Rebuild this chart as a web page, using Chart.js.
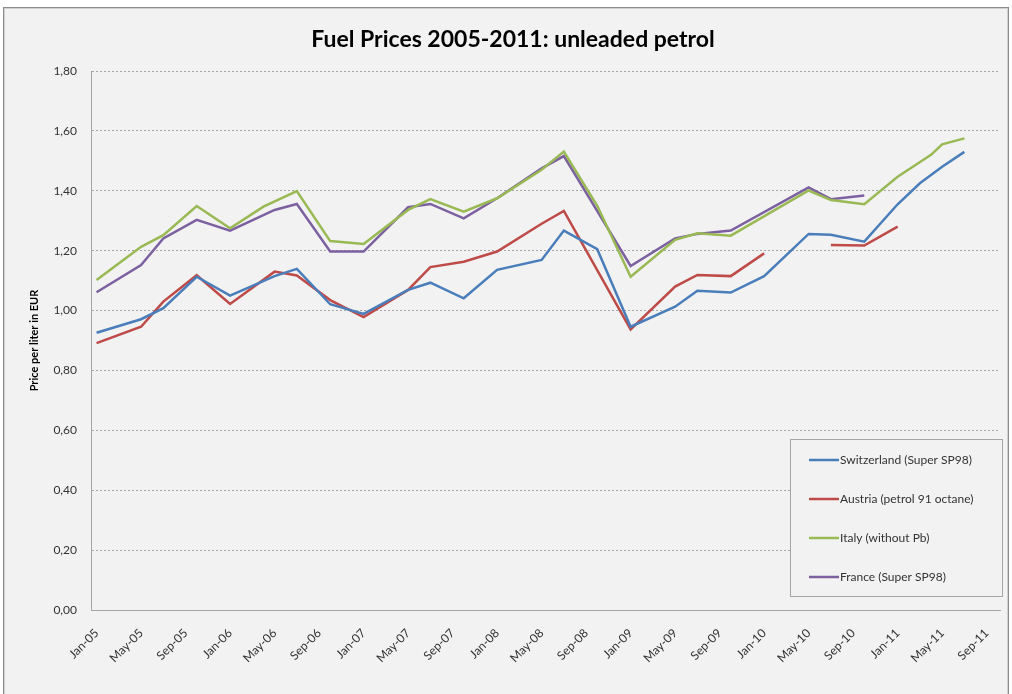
<!DOCTYPE html>
<html>
<head>
<meta charset="utf-8">
<title>Fuel Prices 2005-2011</title>
<script src="https://cdn.jsdelivr.net/npm/chart.js@4"></script>
<style>
  body { margin: 0; background: #ffffff; }
  #frame {
    position: absolute; left: 3px; top: 7px; width: 1004px; height: 690px;
    background: #f2f2f2; border: 1px solid #8c8c8c; box-shadow: inset 0 0 0 1px #d0d0d0;
  }
  #chart { position: absolute; left: 0; top: 0; }
</style>
</head>
<body>
<div id="frame"></div>
<canvas id="chart" width="1012" height="694"></canvas>
<script>
// x tick labels, one every 4 months starting Jan-05
const tickLabels = ['Jan-05', 'May-05', 'Sep-05', 'Jan-06', 'May-06', 'Sep-06', 'Jan-07', 'May-07',
    'Sep-07', 'Jan-08', 'May-08', 'Sep-08', 'Jan-09', 'May-09', 'Sep-09', 'Jan-10', 'May-10',
    'Sep-10', 'Jan-11', 'May-11', 'Sep-11'];

// [months since Jan-05, price in EUR]
const switzerland = [[0, 0.926], [4, 0.971], [6, 1.008], [9, 1.113], [12, 1.050], [16, 1.115],
    [18, 1.139], [21, 1.021], [24, 0.989], [28, 1.069], [30, 1.093], [33, 1.041], [36, 1.136],
    [40, 1.169], [42, 1.267], [45, 1.205], [48, 0.946], [52, 1.013], [54, 1.066], [57, 1.060],
    [60, 1.115], [64, 1.256], [66, 1.253], [69, 1.230], [72, 1.355], [74, 1.425], [76, 1.480],
    [78, 1.530]];

const austria = [[0, 0.891], [4, 0.946], [6, 1.030], [9, 1.118], [12, 1.022], [16, 1.130],
    [18, 1.117], [21, 1.035], [24, 0.978], [28, 1.069], [30, 1.145], [33, 1.163], [36, 1.197],
    [40, 1.290], [42, 1.333], [48, 0.937], [52, 1.080], [54, 1.119], [57, 1.115], [60, 1.191],
    [63, null], [66, 1.219], [69, 1.217], [72, 1.280]];

const italy = [[0, 1.102], [4, 1.213], [6, 1.252], [9, 1.349], [12, 1.275], [15, 1.347],
    [18, 1.399], [21, 1.232], [24, 1.222], [28, 1.336], [30, 1.372], [33, 1.330], [36, 1.375],
    [40, 1.470], [42, 1.531], [45, 1.350], [48, 1.113], [52, 1.236], [54, 1.258], [57, 1.250],
    [64, 1.401], [66, 1.369], [69, 1.355], [72, 1.447], [75, 1.520], [76, 1.555], [78, 1.575]];

const france = [[0, 1.061], [4, 1.152], [6, 1.241], [9, 1.303], [12, 1.267], [16, 1.336],
    [18, 1.356], [21, 1.197], [24, 1.197], [28, 1.345], [30, 1.356], [33, 1.308], [36, 1.375],
    [40, 1.475], [42, 1.516], [48, 1.149], [52, 1.241], [54, 1.256], [57, 1.267], [64, 1.411],
    [66, 1.372], [69, 1.384]];

const seriesNames = ['Switzerland (Super SP98)', 'Austria (petrol 91 octane)', 'Italy (without Pb)', 'France (Super SP98)'];
const seriesColors = ['#4a7ebb', '#be4b48', '#98b954', '#7d60a0'];
const seriesData = [switzerland, austria, italy, france];

const textColor = '#333333';
const fontFamily = 'Lato, "Open Sans", sans-serif';

// Legend drawn as a framed box in the lower right of the plot
const boxLegend = {
    id: 'boxLegend',
    afterDraw(chart) {
        const ctx = chart.ctx;
        const area = chart.chartArea;
        const w = 212, h = 157;
        const left = area.right - 210;
        const top = area.bottom - 171;
        ctx.save();
        ctx.fillStyle = '#f2f2f2';
        ctx.strokeStyle = '#a6a6a6';
        ctx.lineWidth = 1;
        ctx.fillRect(left, top, w, h);
        ctx.strokeRect(left + 0.5, top + 0.5, w, h);
        ctx.font = '12px ' + fontFamily;
        ctx.textBaseline = 'middle';
        chart.data.datasets.forEach((ds, i) => {
            const y = top + 21 + i * 39;
            ctx.strokeStyle = ds.borderColor;
            ctx.lineWidth = 2.5;
            ctx.beginPath();
            ctx.moveTo(left + 19, y);
            ctx.lineTo(left + 49, y);
            ctx.stroke();
            ctx.fillStyle = textColor;
            ctx.fillText(ds.label, left + 50, y);
        });
        ctx.restore();
    }
};

new Chart('chart', {
    type: 'line',
    data: {
        datasets: seriesData.map((data, i) => ({
            label: seriesNames[i],
            data: data,
            borderColor: seriesColors[i],
            backgroundColor: seriesColors[i],
            borderWidth: 2.5,
            pointRadius: 0,
            tension: 0,
            spanGaps: false
        }))
    },
    options: {
        responsive: false,
        animation: false,
        layout: { padding: { left: 26, right: 12, top: 0, bottom: 0 } },
        plugins: {
            legend: { display: false },
            tooltip: { enabled: false },
            title: {
                display: true,
                text: 'Fuel Prices 2005-2011: unleaded petrol',
                color: '#000000',
                font: { family: fontFamily, size: 23, weight: 'bold' },
                padding: { top: 26, bottom: 17.4 }
            }
        },
        scales: {
            x: {
                type: 'linear',
                min: -0.5,
                max: 81.2,
                afterBuildTicks: (scale) => {
                    scale.ticks = tickLabels.map((_, i) => ({ value: i * 4 }));
                },
                afterFit: (scale) => { scale.height = 84; },
                grid: { display: false },
                border: { display: true, color: '#a6a6a6', width: 1 },
                ticks: {
                    autoSkip: false,
                    minRotation: 45,
                    maxRotation: 45,
                    padding: 8,
                    color: textColor,
                    font: { family: fontFamily, size: 12 },
                    callback: (value) => tickLabels[value / 4]
                }
            },
            y: {
                min: 0,
                max: 1.8,
                afterFit: (scale) => { scale.width = 65; },
                grid: { color: '#a6a6a6', lineWidth: 1, drawTicks: false },
                border: { display: true, color: '#a6a6a6', width: 1, dash: [2, 2] },
                ticks: {
                    stepSize: 0.2,
                    padding: 14,
                    color: textColor,
                    font: { family: fontFamily, size: 12 },
                    callback: (value) => value.toFixed(2).replace('.', ',')
                },
                title: {
                    display: true,
                    text: 'Price per liter in EUR',
                    color: '#000000',
                    font: { family: fontFamily, size: 11, weight: 'bold' },
                    padding: { top: 2, bottom: 0 }
                }
            }
        }
    },
    plugins: [boxLegend]
});
</script>
</body>
</html>
